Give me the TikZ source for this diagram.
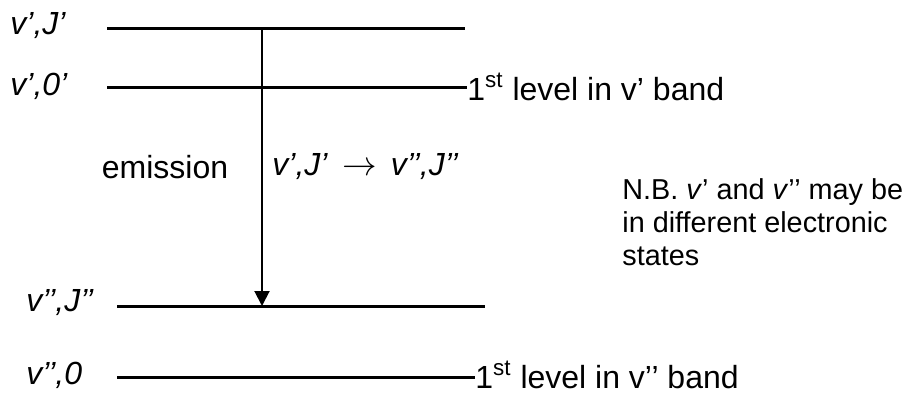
\documentclass[tikz,border=0pt]{standalone}
\usepackage{fontspec}
\setmainfont{Liberation Sans}
\usetikzlibrary{arrows.meta}

\tikzset{
  level/.style={line width=1.5pt},
  lbl/.style={font=\fontsize{16}{19}\selectfont, inner sep=1pt},
  note/.style={font=\fontsize{14.4}{16.5}\selectfont, inner sep=0pt, align=left},
}

\begin{document}
\begin{tikzpicture}[x=0.5pt, y=-0.5pt, >={Triangle[width=7.5pt,length=7.5pt]}]
\useasboundingbox (0,0) rectangle (903,396);

% === Upper band ===
\coordinate (upJ-l) at (107,28);
\coordinate (upJ-r) at (465,28);
\coordinate (up0-l) at (107,87);
\coordinate (up0-r) at (467,87);
\draw[level] (upJ-l) -- (upJ-r);
\draw[level] (up0-l) -- (up0-r);
\node[lbl, anchor=west] (upJ) at (8,26) {\textit{v’,J’}};
\node[lbl, anchor=west] (up0) at (8,86) {\textit{v’,0’}};
\node[lbl, anchor=west, inner sep=0pt] (up0note) at (up0-r) {1\textsuperscript{st} level in v’ band};

% === Lower band ===
\coordinate (loJ-l) at (117,306);
\coordinate (loJ-r) at (485,306);
\coordinate (lo0-l) at (117,377);
\coordinate (lo0-r) at (475,377);
\draw[level] (loJ-l) -- (loJ-r);
\draw[level] (lo0-l) -- (lo0-r);
\node[lbl, anchor=west] (loJ) at (24,303) {\textit{v’’,J’’}};
\node[lbl, anchor=west] (lo0) at (24,375) {\textit{v’’,0}};
\node[lbl, anchor=west, inner sep=0pt, yshift=1pt] (lo0note) at (lo0-r) {1\textsuperscript{st} level in v’’ band};

% === Emission ===
\coordinate (emit-top) at (262,28);
\coordinate (emit-bot) at (262,306);
\draw[->, line width=1pt] (emit-top) -- (emit-bot);
\node[lbl] (emit) at (165,167) {emission};
\node[lbl, anchor=west] (trans) at (270,167) {\textit{v’,J’} \,$\rightarrow$\, \textit{v’’,J’’}};

% N.B.
\node[note, anchor=north west] (nb) at (622,178)
  {N.B. \textit{v}’ and \textit{v}’’ may be\\in different electronic\\states};

\end{tikzpicture}
\end{document}
